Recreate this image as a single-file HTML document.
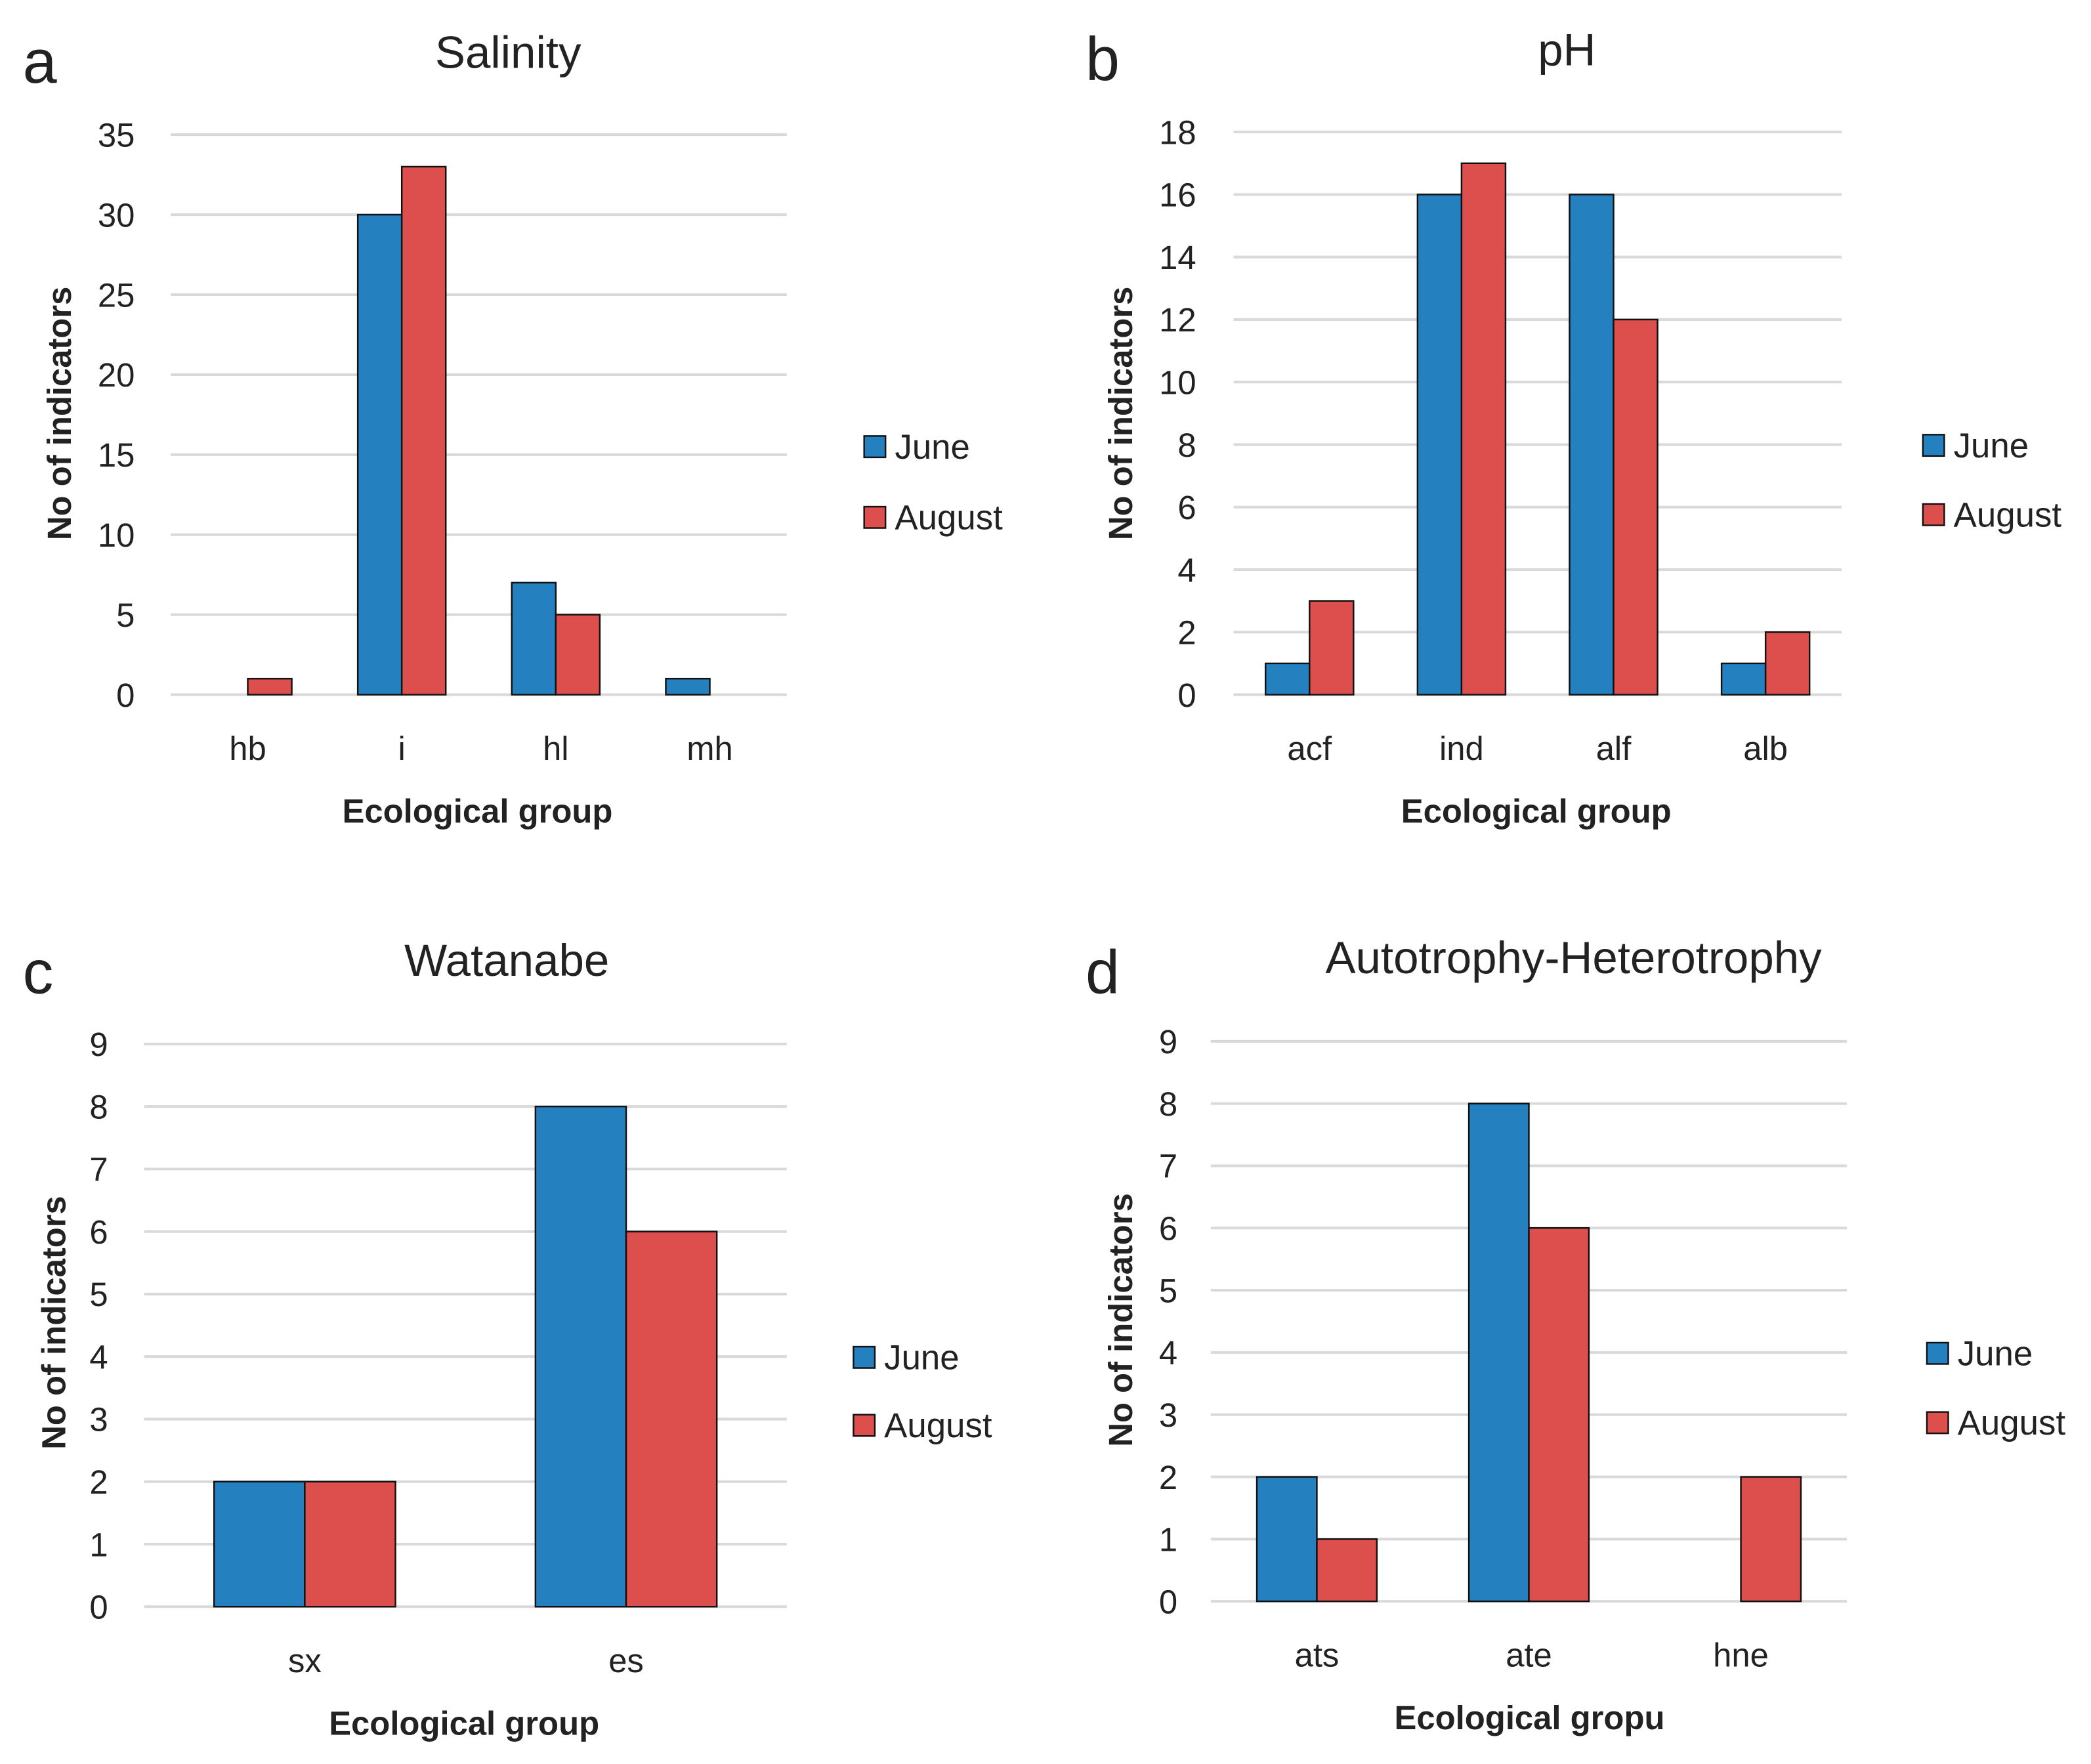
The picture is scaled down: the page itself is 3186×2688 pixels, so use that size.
<!DOCTYPE html>
<html><head><meta charset="utf-8"><style>
html,body{margin:0;padding:0;background:#fff;}
svg{display:block;}
text{font-family:"Liberation Sans",sans-serif;fill:#222;}
</style></head><body>
<svg id="root" width="3186" height="2688" viewBox="0 0 1568 1323" xmlns="http://www.w3.org/2000/svg"></svg>
<script>
// Panel a: Salinity
const salinityCategories = ["hb","i","hl","mh"];
const salinityJune = [0,30,7,1];
const salinityAugust = [1,33,5,0];
const salinityTicks = [0,5,10,15,20,25,30,35];
// Panel b: pH
const phCategories = ["acf","ind","alf","alb"];
const phJune = [1,16,16,1];
const phAugust = [3,17,12,2];
const phTicks = [0,2,4,6,8,10,12,14,16,18];
// Panel c: Watanabe
const watanabeCategories = ["sx","es"];
const watanabeJune = [2,8];
const watanabeAugust = [2,6];
const watanabeTicks = [0,1,2,3,4,5,6,7,8,9];
// Panel d: Autotrophy-Heterotrophy
const autoCategories = ["ats","ate","hne"];
const autoJune = [2,8,0];
const autoAugust = [1,6,2];
const autoTicks = [0,1,2,3,4,5,6,7,8,9];

const NS="http://www.w3.org/2000/svg";
const root=document.getElementById('root');
function mk(tag,attrs,parent,txt){const e=document.createElementNS(NS,tag);for(const k in attrs)e.setAttribute(k,attrs[k]);if(txt!==undefined)e.textContent=txt;parent.appendChild(e);return e;}

function panel(cfg){
  const g=mk('g',{},root);
  
  
  const max=cfg.ticks[cfg.ticks.length-1];
  const y=v=>cfg.y0-(v/max)*(cfg.y0-cfg.yTop);
  const step=(cfg.x1-cfg.x0)/cfg.cats.length;
  const cx=i=>cfg.x0+step*(i+0.5);
  cfg.ticks.forEach(t=>{
    const l=mk('line',{x1:cfg.x0,x2:cfg.x1,y1:y(t),y2:y(t),stroke:'#d9d9d9','stroke-width':2},g);
    
    
    const tx=mk('text',{x:cfg.tickX,y:y(t)+9,'text-anchor':'end','font-size':25},g,String(t));
    
    
  });
  cfg.cats.forEach((c,i)=>{
    [[cfg.june,'#2580c0',-1],[cfg.aug,'#dc4f4d',0]].forEach(([arr,col,off],si)=>{
      const v=arr[i]; if(v<=0) return;
      const r=mk('rect',{x:cx(i)+off*cfg.bw,y:y(v),width:cfg.bw,height:y(0)-y(v),fill:col,stroke:'#111','stroke-width':1.2},g);
      
      
    });
    const lab=mk('text',{x:cx(i),y:cfg.y0+49,'text-anchor':'middle','font-size':25},g,c);
    
    
  });
  const t=mk('text',{x:cfg.titleX,y:cfg.titleY,'text-anchor':'middle','font-size':34},g,cfg.title);
  
  
  const pl=mk('text',{x:cfg.labX,y:cfg.labY,'font-size':46},g,cfg.id);
  
  
  const xt=mk('text',{x:cfg.xtX,y:cfg.y0+96,'text-anchor':'middle','font-size':25,'font-weight':'bold'},g,cfg.xTitle);
  
  
  const yt=mk('text',{x:0,y:0,'text-anchor':'middle','font-size':25,'font-weight':'bold',transform:`translate(${cfg.ytX},${cfg.ytY}) rotate(-90)`},g,'No of indicators');
  
  
  [['June','#2580c0',cfg.legY1],['August','#dc4f4d',cfg.legY2]].forEach(([n,col,ly])=>{
    const s=mk('rect',{x:cfg.legX,y:ly-8,width:16,height:16,fill:col,stroke:'#111','stroke-width':1.2},g);
    
    
    const lt=mk('text',{x:cfg.legX+23,y:ly+9,'font-size':26},g,n);
    
    
  });
}

panel({id:'a',title:'Salinity',cats:salinityCategories,june:salinityJune,aug:salinityAugust,ticks:salinityTicks,
  x0:128,x1:590,yTop:101,y0:521,bw:33,tickX:101,titleX:381,titleY:51,labX:17,labY:62,xTitle:'Ecological group',xtX:358,
  ytX:53,ytY:310,legX:648,legY1:335,legY2:388});
panel({id:'b',title:'pH',cats:phCategories,june:phJune,aug:phAugust,ticks:phTicks,
  x0:925,x1:1381,yTop:99,y0:521,bw:33,tickX:897,titleX:1175,titleY:49,labX:814,labY:60,xTitle:'Ecological group',xtX:1152,
  ytX:849,ytY:310,legX:1442,legY1:334,legY2:386});
panel({id:'c',title:'Watanabe',cats:watanabeCategories,june:watanabeJune,aug:watanabeAugust,ticks:watanabeTicks,
  x0:108,x1:590,yTop:783,y0:1205,bw:68,tickX:81,titleX:380,titleY:732,labX:17,labY:745,xTitle:'Ecological group',xtX:348,
  ytX:49,ytY:992,legX:640,legY1:1018,legY2:1069});
panel({id:'d',title:'Autotrophy-Heterotrophy',cats:autoCategories,june:autoJune,aug:autoAugust,ticks:autoTicks,
  x0:908,x1:1385,yTop:781,y0:1201,bw:45,tickX:883,titleX:1180,titleY:730,labX:814,labY:745,xTitle:'Ecological gropu',xtX:1147,
  ytX:849,ytY:990,legX:1445,legY1:1015,legY2:1067});
</script>
</body></html>
